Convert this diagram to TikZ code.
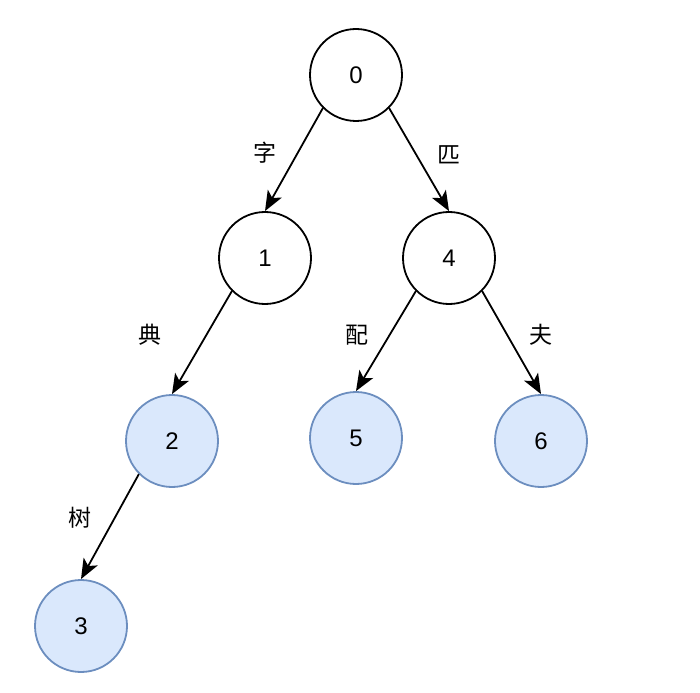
\documentclass[tikz,border=0pt]{standalone}
\usepackage{fontspec}
\setmainfont{Liberation Sans}
\newfontfamily\cjk{Noto Sans CJK SC}
\usepackage{tikz}
\usetikzlibrary{shapes,calc,arrows.meta}

\begin{document}
\begin{tikzpicture}[x=1pt, y=-1pt, font=\fontsize{24}{28}\selectfont,
    trie/.style={circle, draw, line width=1.8pt, minimum size=92pt, inner sep=0pt},
    word/.style={trie, draw={rgb,255:red,108;green,142;blue,191}, fill={rgb,255:red,218;green,232;blue,252}},
    edge/.style={line width=1.8pt, -{Stealth[length=20pt,width=16pt,inset=5pt]}},
    letter/.style={font=\cjk\fontsize{23}{28}\selectfont}]
    \useasboundingbox (0,0) rectangle (700,692);
    \node[trie] (n0) at (356,75) {0};
    \node[trie] (n1) at (265,258) {1};
    \node[trie] (n4) at (449,258) {4};
    \node[word] (n2) at (172,441) {2};
    \node[word] (n5) at (356,438) {5};
    \node[word] (n6) at (541,441) {6};
    \node[word] (n3) at (81,626) {3};
    \draw[edge] (n0.south west) -- (n1.north);
    \draw[edge] (n0.south east) -- (n4.north);
    \draw[edge] (n1.south west) -- (n2.north);
    \draw[edge] (n4.south west) -- (n5.north);
    \draw[edge] (n4.south east) -- (n6.north);
    \draw[edge] (n2.south west) -- (n3.north);
    \node[letter] (l01) at (265,153) {字};
    \node[letter] (l04) at (449,155) {匹};
    \node[letter] (l12) at (150,335) {典};
    \node[letter] (l45) at (357,335) {配};
    \node[letter] (l46) at (541,335) {夫};
    \node[letter] (l23) at (80,518) {树};
\end{tikzpicture}
\end{document}
